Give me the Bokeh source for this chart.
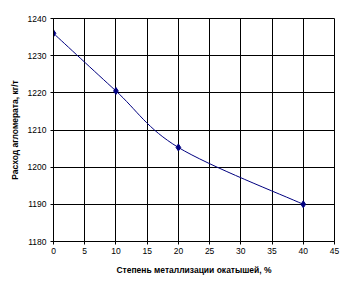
import numpy as np
from bokeh.plotting import figure
from bokeh.models import FixedTicker, Range1d
from bokeh.embed import file_html
from bokeh.resources import INLINE

# Data
metallization = [0, 10, 20, 40]
sinter_use = [1236.0, 1220.5, 1205.3, 1190.0]
x_ticks = [0, 5, 10, 15, 20, 25, 30, 35, 40, 45]
y_ticks = [1180, 1190, 1200, 1210, 1220, 1230, 1240]
x_title = "Степень металлизации окатышей, %"
y_title = "Расход агломерата, кг/т"

p = figure(width=349, height=288, output_backend="svg", toolbar_location=None,
           x_range=Range1d(0, 45), y_range=Range1d(1180, 1240),
           min_border_left=53, min_border_right=15, min_border_top=18, min_border_bottom=47)
p.background_fill_color = "white"
p.border_fill_color = "white"
p.outline_line_color = "black"
p.outline_line_width = 1

for ax, ticks in ((p.xaxis, x_ticks), (p.yaxis, y_ticks)):
    ax.ticker = FixedTicker(ticks=ticks)
    ax.minor_tick_line_color = None
    ax.major_tick_in = 0
    ax.major_tick_out = 3
    ax.axis_line_color = "black"
    ax.major_tick_line_color = "black"
    ax.major_label_text_font = "Liberation Sans"
    ax.major_label_text_font_size = "8.5px"
    ax.major_label_text_color = "black"
    ax.axis_label_text_font = "Liberation Sans"
    ax.axis_label_text_font_size = "8.5px"
    ax.axis_label_text_font_style = "bold"
    ax.axis_label_text_color = "black"

p.xaxis.axis_label = x_title
p.yaxis.axis_label = y_title
p.xaxis.major_label_standoff = 3
p.xaxis.axis_label_standoff = 8
p.yaxis.major_label_standoff = 4
p.yaxis.axis_label_standoff = 5

p.xgrid.ticker = FixedTicker(ticks=x_ticks)
p.ygrid.ticker = FixedTicker(ticks=y_ticks)
for g in (p.xgrid, p.ygrid):
    g.grid_line_color = "black"
    g.grid_line_width = 1
    g.grid_line_alpha = 1

# Smoothed line (Excel-style Bezier segments computed from the data)
xs = np.array(metallization, dtype=float)
ys = np.array(sinter_use, dtype=float)
n = len(xs)
x0, y0, x1, y1, cx0, cy0, cx1, cy1 = [], [], [], [], [], [], [], []
for i in range(n - 1):
    pm = i - 1 if i > 0 else i
    pp = i + 2 if i + 2 < n else i + 1
    x0.append(xs[i]); y0.append(ys[i]); x1.append(xs[i + 1]); y1.append(ys[i + 1])
    cx0.append(xs[i] + (xs[i + 1] - xs[pm]) / 6); cy0.append(ys[i] + (ys[i + 1] - ys[pm]) / 6)
    cx1.append(xs[i + 1] - (xs[pp] - xs[i]) / 6); cy1.append(ys[i + 1] - (ys[pp] - ys[i]) / 6)
p.bezier(x0=x0, y0=y0, x1=x1, y1=y1, cx0=cx0, cy0=cy0, cx1=cx1, cy1=cy1,
         line_color="#000080", line_width=1)
p.scatter(metallization, sinter_use, marker="diamond", size=7,
          fill_color="#000080", line_color="#000080")

open("out.html", "w").write(file_html(p, INLINE))
